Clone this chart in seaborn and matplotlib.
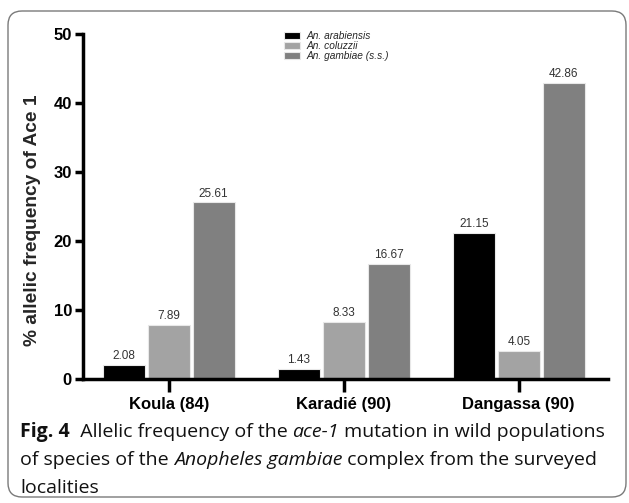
import matplotlib
matplotlib.use("Agg")
import matplotlib.pyplot as plt
import numpy as np
import pandas as pd
import seaborn as sns
from matplotlib.patches import FancyBboxPatch
from matplotlib.transforms import IdentityTransform

localities = ["Koula (84)", "Karadié (90)", "Dangassa (90)"]
species = ["An. arabiensis", "An. coluzzii", "An. gambiae (s.s.)"]
arabiensis = [2.08, 1.43, 21.15]
coluzzii = [7.89, 8.33, 4.05]
gambiae = [25.61, 16.67, 42.86]
bar_colors = ["#000000", "#a3a3a3", "#808080"]

caption = [
    [("Fig. 4", "bold", "normal"), ("  Allelic frequency of the ", "normal", "normal"),
     ("ace-1", "normal", "italic"), (" mutation in wild populations", "normal", "normal")],
    [("of species of the ", "normal", "normal"), ("Anopheles gambiae", "normal", "italic"),
     (" complex from the surveyed", "normal", "normal")],
    [("localities", "normal", "normal")],
]

df = pd.DataFrame({
    "locality": localities * 3,
    "species": np.repeat(species, len(localities)),
    "freq": arabiensis + coluzzii + gambiae,
})

sns.set_theme(style="ticks")
plt.rcParams["font.family"] = ["Liberation Sans", "DejaVu Sans"]

W, H = 629, 503
fig = plt.figure(figsize=(W / 100, H / 100), dpi=100)
ax = fig.add_axes([83 / W, 1 - 379 / H, (608 - 83) / W, (379 - 34) / H])

sns.barplot(data=df, x="locality", y="freq", hue="species", palette=bar_colors,
            width=0.77, gap=0.07, errorbar=None, edgecolor="#e8e8e8", linewidth=0.8, ax=ax)

for cont in ax.containers:
    ax.bar_label(cont, fmt="%.2f", padding=2, fontsize=8.5, color="#333333")

ax.set_xlim(-0.49, 2.51)
ax.set_ylim(0, 50)
ax.set_yticks([0, 10, 20, 30, 40, 50])
ax.set_xlabel("")
ax.set_ylabel("% allelic frequency of Ace 1", fontsize=13.8, fontweight="bold")
ax.yaxis.set_label_coords(-0.08, 0.46)
sns.despine(ax=ax)
for side in ["left", "bottom"]:
    ax.spines[side].set_linewidth(2.5)
    ax.spines[side].set_color("black")
ax.tick_params(axis="y", width=2.5, length=6, pad=2, labelsize=12, colors="black")
ax.tick_params(axis="x", width=2.5, length=9, pad=4, labelsize=12, colors="black")
for lab in ax.get_xticklabels() + ax.get_yticklabels():
    lab.set_fontweight("bold")

ax.legend(loc="upper left", bbox_to_anchor=(284 / W, 1 - 31 / H), bbox_transform=fig.transFigure,
          frameon=False, prop={"style": "italic", "size": 7.3}, handlelength=1.6, handleheight=0.7,
          labelspacing=0, handletextpad=0.6, borderpad=0, borderaxespad=0)

# caption below the chart
renderer = fig.canvas.get_renderer()
for i, parts in enumerate(caption):
    x = 20
    y = H - (432 + 28 * i)
    for text, weight, style in parts:
        t = fig.text(x, y, text, transform=IdentityTransform(), fontsize=14,
                     family=["Open Sans", "DejaVu Sans"], fontweight=weight, fontstyle=style,
                     va="center", ha="left", color="#111111")
        x += t.get_window_extent(renderer).width

fig.patches.append(FancyBboxPatch((8, 6), 618, 486, boxstyle="round,pad=0,rounding_size=14",
                                  transform=IdentityTransform(), fill=False,
                                  edgecolor="#7a7a7a", linewidth=1))

fig.savefig("out.png", dpi=100)
